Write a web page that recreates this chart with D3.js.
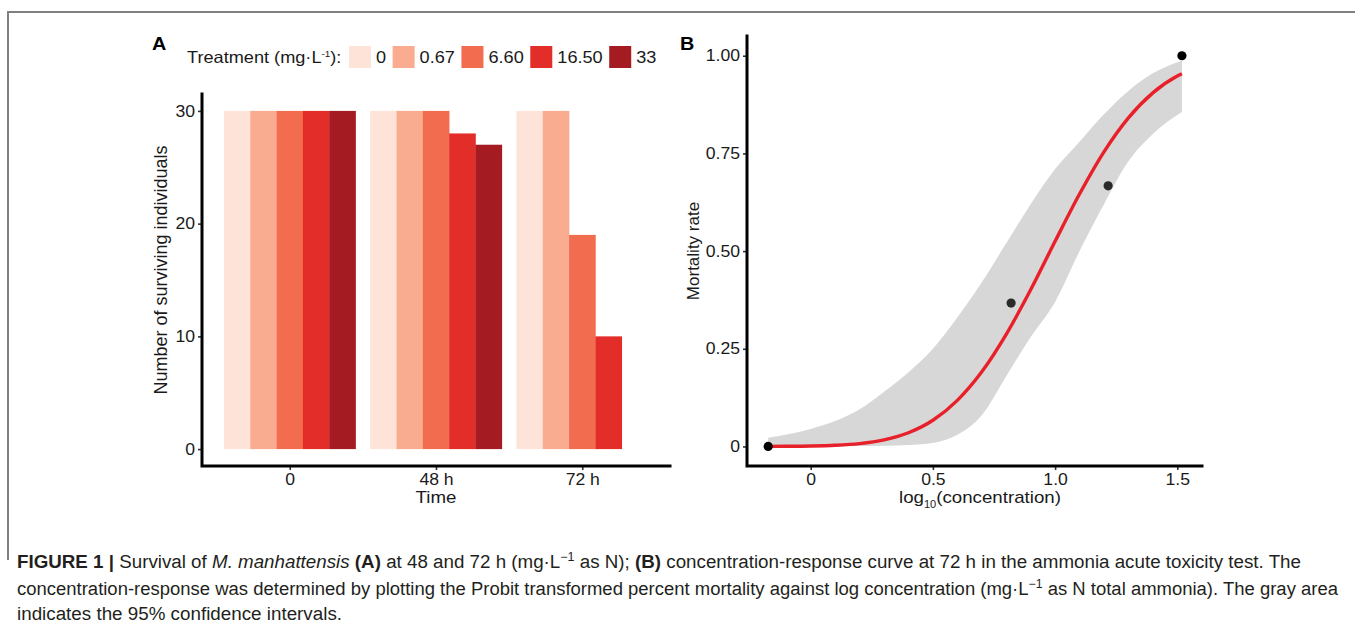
<!DOCTYPE html>
<html><head><meta charset="utf-8">
<script src="https://cdn.jsdelivr.net/npm/d3@7"></script>
<style>
body{margin:0;background:#fff}
svg{display:block}
text{font-family:"Liberation Sans",Arial,Helvetica,sans-serif}
</style>
</head><body>
<svg id="c" width="1355" height="625"></svg>
<script>
// ---------------- DATA ----------------
const timeCats = ["0", "48 h", "72 h"];
const treatments = ["0", "0.67", "6.60", "16.50", "33"];
const treatColors = ["#FDE3D8", "#F9AC8F", "#F26C4F", "#E22D28", "#A41C22"];
const survival0h  = [30, 30, 30, 30, 30];
const survival48h = [30, 30, 30, 28, 27];
const survival72h = [30, 30, 19, 10, 0];
const yTicksA = [0, 10, 20, 30];

const logConc   = [-0.174, 0.820, 1.217, 1.519];
const mortality = [0, 0.367, 0.667, 1.0];
const fitX   = [-0.174, -0.1, 0, 0.1, 0.2, 0.3, 0.4, 0.5, 0.6, 0.7, 0.8, 0.9, 1.0, 1.1, 1.2, 1.3, 1.4, 1.5, 1.519];
const fitY   = [0.0002, 0.0004, 0.0011, 0.003, 0.0074, 0.017, 0.035, 0.067, 0.118, 0.191, 0.287, 0.401, 0.525, 0.646, 0.754, 0.841, 0.905, 0.948, 0.954];
const ciX    = [-0.174, 0, 0.1, 0.2, 0.3, 0.4, 0.5, 0.6, 0.7, 0.8, 0.9, 1.0, 1.1, 1.2, 1.3, 1.4, 1.519];
const ciUpper= [0.022, 0.045, 0.065, 0.095, 0.14, 0.19, 0.25, 0.33, 0.42, 0.52, 0.62, 0.71, 0.78, 0.85, 0.91, 0.955, 0.987];
const ciLower= [0.0, 0.0, 0.0, 0.001, 0.002, 0.004, 0.009, 0.03, 0.08, 0.18, 0.28, 0.37, 0.50, 0.62, 0.73, 0.80, 0.856];
const xTicksB = [0, 0.5, 1.0, 1.5];
const xTickLabelsB = ["0", "0.5", "1.0", "1.5"];
const yTicksB = [0, 0.25, 0.5, 0.75, 1.0];
const yTickLabelsB = ["0", "0.25", "0.50", "0.75", "1.00"];

// ---------------- HELPERS ----------------
const svg = d3.select("#c");
const STR = 1.1;
function stretch(sel, k) {
  sel.each(function () {
    const L = this.getComputedTextLength();
    this.setAttribute("textLength", L * k);
    this.setAttribute("lengthAdjust", "spacingAndGlyphs");
  });
}
const ink = "#1a1a1a";

// frame
svg.append("line").attr("x1", 8).attr("x2", 1355).attr("y1", 12).attr("y2", 12)
  .attr("stroke", "#808080").attr("stroke-width", 2);
svg.append("line").attr("x1", 8).attr("x2", 8).attr("y1", 11).attr("y2", 560)
  .attr("stroke", "#808080").attr("stroke-width", 2);

// ---------------- PANEL A ----------------
const yA = d3.scaleLinear().domain([-1.5, 31.5]).range([466, 94]);
const xA = d3.scalePoint().domain(timeCats).range([202, 670]).padding(0.6);
const dodge = 0.9 * xA.step();
const bw = dodge / treatments.length;
const seriesByTime = [survival0h, survival48h, survival72h];

const gA = svg.append("g");
timeCats.forEach((t, i) => {
  seriesByTime[i].forEach((v, j) => {
    gA.append("rect")
      .attr("x", xA(t) - dodge / 2 + j * bw)
      .attr("y", yA(v))
      .attr("width", bw + 0.3)
      .attr("height", yA(0) - yA(v))
      .attr("fill", treatColors[j]);
  });
});

function styleAxis(g) {
  g.select(".domain").remove();
  g.selectAll(".tick line").attr("stroke", "#333").attr("stroke-width", 1.6);
  g.selectAll(".tick text").attr("fill", ink).style("font-size", "16px")
    .style("font-family", '"Liberation Sans",Arial,sans-serif');
}

const axYA = svg.append("g").attr("transform", "translate(202,0)")
  .call(d3.axisLeft(yA).tickValues(yTicksA).tickSize(4).tickSizeOuter(0).tickPadding(3));
styleAxis(axYA);
axYA.selectAll(".tick text").call(stretch, STR);

const axXA = svg.append("g").attr("transform", "translate(0,466)")
  .call(d3.axisBottom(xA).tickSize(4).tickSizeOuter(0).tickPadding(4));
styleAxis(axXA);
axXA.selectAll(".tick text").call(stretch, STR);

svg.append("path").attr("d", `M202,94V466H670`).attr("fill", "none")
  .attr("stroke", "#000").attr("stroke-width", 3).attr("stroke-linecap", "square");

svg.append("text").attr("x", 436).attr("y", 503).attr("text-anchor", "middle")
  .attr("fill", ink).style("font-size", "17px").text("Time").call(stretch, STR);
svg.append("text").attr("transform", "translate(167,270) rotate(-90)")
  .attr("text-anchor", "middle").attr("fill", ink).style("font-size", "18px")
  .text("Number of surviving individuals");

// panel label A
svg.append("text").attr("x", 152).attr("y", 50).attr("fill", "#000")
  .style("font-size", "18px").style("font-weight", "bold").text("A").call(stretch, STR);

// legend
const lgT = svg.append("text").attr("x", 187).attr("y", 63).attr("fill", ink).style("font-size", "16.5px");
lgT.append("tspan").text("Treatment (mg·L");
lgT.append("tspan").attr("dy", -6).style("font-size", "9px").text("-1");
lgT.append("tspan").attr("dy", 6).text("):");
lgT.call(stretch, STR);
let lx = 349;
treatments.forEach((tr, j) => {
  svg.append("rect").attr("x", lx).attr("y", 46).attr("width", 22).attr("height", 22)
    .attr("fill", treatColors[j]);
  const t = svg.append("text").attr("x", lx + 27).attr("y", 63).attr("fill", ink)
    .style("font-size", "16.5px").text(tr);
  t.call(stretch, STR);
  lx = lx + 27 + t.node().getComputedTextLength() + 6.5;
});

// ---------------- PANEL B ----------------
const xB = d3.scaleLinear().domain([-0.2607, 1.6032]).range([747, 1202.5]);
const yB = d3.scaleLinear().domain([-0.05, 1.05]).range([466, 36.2]);

const ciData = ciX.map((x, i) => ({ x, lo: ciLower[i], hi: ciUpper[i] }));
svg.append("path").datum(ciData)
  .attr("d", d3.area().x(d => xB(d.x)).y0(d => yB(d.lo)).y1(d => yB(d.hi)).curve(d3.curveMonotoneX))
  .attr("fill", "#D7D7D7");

const fitData = fitX.map((x, i) => ({ x, y: fitY[i] }));
svg.append("path").datum(fitData)
  .attr("d", d3.line().x(d => xB(d.x)).y(d => yB(d.y)).curve(d3.curveMonotoneX))
  .attr("fill", "none").attr("stroke", "#E8202A").attr("stroke-width", 3.4);

svg.selectAll("circle.pt").data(logConc.map((x, i) => ({ x, y: mortality[i] })))
  .enter().append("circle").attr("class", "pt")
  .attr("cx", d => xB(d.x)).attr("cy", d => yB(d.y)).attr("r", 4.6)
  .attr("fill", (d, i) => (i === 1 || i === 2) ? "#2a2a2a" : "#000");

const axYB = svg.append("g").attr("transform", "translate(747,0)")
  .call(d3.axisLeft(yB).tickValues(yTicksB).tickFormat((d, i) => yTickLabelsB[i])
    .tickSize(4).tickSizeOuter(0).tickPadding(3));
styleAxis(axYB);
axYB.selectAll(".tick text").call(stretch, STR);

const axXB = svg.append("g").attr("transform", "translate(0,466)")
  .call(d3.axisBottom(xB).tickValues(xTicksB).tickFormat((d, i) => xTickLabelsB[i])
    .tickSize(4).tickSizeOuter(0).tickPadding(4));
styleAxis(axXB);
axXB.selectAll(".tick text").call(stretch, STR);

svg.append("path").attr("d", `M747,36V466H1202`).attr("fill", "none")
  .attr("stroke", "#000").attr("stroke-width", 3).attr("stroke-linecap", "square");

const xtB = svg.append("text").attr("x", 980).attr("y", 503).attr("text-anchor", "middle")
  .attr("fill", ink).style("font-size", "17px");
xtB.append("tspan").text("log");
xtB.append("tspan").attr("dy", 5).style("font-size", "10px").text("10");
xtB.append("tspan").attr("dy", -5).text("(concentration)");
xtB.call(stretch, STR);

svg.append("text").attr("transform", "translate(699,251) rotate(-90)")
  .attr("text-anchor", "middle").attr("fill", ink).style("font-size", "17px")
  .text("Mortality rate");

svg.append("text").attr("x", 680).attr("y", 50).attr("fill", "#000")
  .style("font-size", "18px").style("font-weight", "bold").text("B").call(stretch, STR);

// ---------------- CAPTION ----------------
const capFont = '"Liberation Sans Narrow","Arial Narrow","Liberation Sans",sans-serif';
const capColor = "#231f20";
function capLine(y, parts, width) {
  const t = svg.append("text").attr("x", 17).attr("y", y).attr("fill", capColor)
    .style("font-family", capFont).style("font-size", "18px");
  parts.forEach(p => {
    const s = t.append("tspan").style("font-family", capFont).text(p.t);
    if (p.b) s.style("font-weight", "bold");
    if (p.i) s.style("font-style", "italic");
    if (p.sup) s.attr("dy", -7).style("font-size", "12px");
    if (p.down) s.attr("dy", 7);
  });
  if (width) t.attr("textLength", width).attr("lengthAdjust", "spacingAndGlyphs");
  return t;
}
capLine(568, [
  { t: "FIGURE 1 | ", b: true },
  { t: "Survival of " },
  { t: "M. manhattensis", i: true },
  { t: " " },
  { t: "(A)", b: true },
  { t: " at 48 and 72 h (mg·L" },
  { t: "−1", sup: true },
  { t: " as N); ", down: true },
  { t: "(B)", b: true },
  { t: " concentration-response curve at 72 h in the ammonia acute toxicity test. The" }
], 1284);
capLine(595, [
  { t: "concentration-response was determined by plotting the Probit transformed percent mortality against log concentration (mg·L" },
  { t: "−1", sup: true },
  { t: " as N total ammonia). The gray area", down: true }
], 1321);
capLine(620, [
  { t: "indicates the 95% confidence intervals." }
], 325);
</script>
</body></html>
